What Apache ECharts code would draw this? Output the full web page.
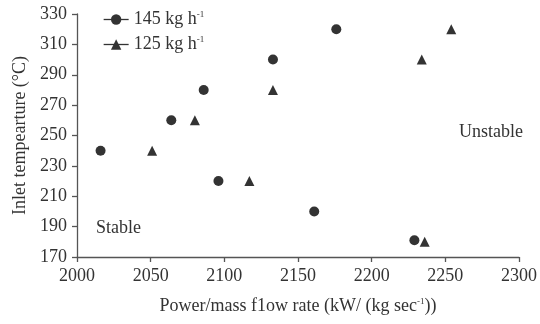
<!DOCTYPE html>
<html>
<head>
<meta charset="utf-8">
<script src="https://cdn.jsdelivr.net/npm/echarts@6/dist/echarts.min.js"></script>
<style>html,body{margin:0;padding:0;background:#fff;}#c{width:540px;height:324px;}</style>
</head>
<body>
<div id="c"></div>
<script>
const seriesNames = ['145 kg h-1', '125 kg h-1'];
const x145 = [2016, 2064, 2086, 2096, 2133, 2161, 2176, 2229];
const y145 = [240, 260, 280, 220, 300, 200, 320, 181];
const x125 = [2051, 2080, 2117, 2133, 2234, 2236, 2254];
const y125 = [240, 260, 220, 280, 300, 180, 320];
const xTicks = [2000, 2050, 2100, 2150, 2200, 2250, 2300];
const yTicks = [170, 190, 210, 230, 250, 270, 290, 310, 330];
const regionLabels = ['Stable', 'Unstable'];

const FONT = '"Liberation Serif", "Times New Roman", serif';
const TXT = '#333';
const AX = '#555';
const sup = { fontSize: 9, lineHeight: 9, verticalAlign: 'top', fontFamily: FONT, color: TXT };

function pairs(xs, ys) { return xs.map((x, i) => [x, ys[i]]); }

const chart = echarts.init(document.getElementById('c'), null, { renderer: 'canvas' });
chart.setOption({
  animation: false,
  backgroundColor: '#fff',
  grid: { left: 77, right: 20, top: 14, bottom: 67, containLabel: false },
  legend: {
    orient: 'vertical',
    left: 98,
    top: 5,
    itemWidth: 25,
    itemHeight: 13,
    itemGap: 6,
    data: seriesNames,
    lineStyle: { opacity: 1, width: 1.3, color: '#333' },
    textStyle: {
      fontFamily: FONT, fontSize: 18, color: TXT, lineHeight: 19,
      rich: { sup: sup }
    },
    formatter: n => n.replace('-1', '{sup|-1}')
  },
  xAxis: {
    type: 'value',
    min: xTicks[0], max: xTicks[xTicks.length - 1], interval: 50,
    name: 'Power/mass f1ow rate (kW/ (kg sec{sup|-1}))',
    nameLocation: 'middle',
    nameGap: 40,
    nameTextStyle: { fontFamily: FONT, fontSize: 18, color: TXT, lineHeight: 18, rich: { sup: sup } },
    axisLine: { show: true, lineStyle: { color: AX, width: 1.3 } },
    axisTick: { show: true, inside: false, length: 5, lineStyle: { color: AX, width: 1.3 } },
    axisLabel: { fontFamily: FONT, fontSize: 18, color: TXT, margin: 10, formatter: v => String(v) },
    splitLine: { show: false }
  },
  yAxis: {
    type: 'value',
    min: yTicks[0], max: yTicks[yTicks.length - 1], interval: 20,
    name: 'Inlet tempearture (°C)',
    nameLocation: 'middle',
    nameGap: 45,
    nameTextStyle: { fontFamily: FONT, fontSize: 18, color: TXT },
    axisLine: { show: true, lineStyle: { color: AX, width: 1.3 } },
    axisTick: { show: true, inside: false, length: 5, lineStyle: { color: AX, width: 1.3 } },
    axisLabel: { fontFamily: FONT, fontSize: 18, color: TXT, margin: 10, formatter: v => String(v) },
    splitLine: { show: false }
  },
  series: [
    {
      name: seriesNames[0], type: 'line', data: pairs(x145, y145),
      symbol: 'circle', symbolSize: 10, showAllSymbol: true,
      itemStyle: { color: '#333' },
      lineStyle: { opacity: 0 }
    },
    {
      name: seriesNames[1], type: 'line', data: pairs(x125, y125),
      symbol: 'triangle', symbolSize: 10, showAllSymbol: true,
      itemStyle: { color: '#333' },
      lineStyle: { opacity: 0 }
    }
  ],
  graphic: [
    { type: 'text', left: 96, top: 219, style: { text: regionLabels[0], font: '18px ' + FONT, fill: TXT } },
    { type: 'text', left: 459, top: 123, style: { text: regionLabels[1], font: '18px ' + FONT, fill: TXT } }
  ]
});
</script>
</body>
</html>
